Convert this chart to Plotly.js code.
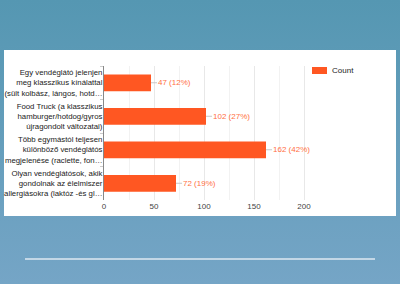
<!DOCTYPE html>
<html><head><meta charset="utf-8">
<script src="https://cdn.plot.ly/plotly-3.0.1.min.js"></script>
<style>
html,body{margin:0;padding:0;}
body{width:400px;height:284px;overflow:hidden;position:relative;background:linear-gradient(#5597b2,#75a5c6);}
#panel{position:absolute;left:4px;top:50px;width:392px;height:166px;background:#fff;}
#rule{position:absolute;left:25px;top:258px;width:350px;height:2px;background:#c3d7e6;}
#chart{position:absolute;left:0;top:0;width:400px;height:284px;}
</style></head>
<body>
<div id="panel"></div><div id="rule"></div><div id="chart"></div>
<script>
const categories = [
  "Egy vendéglátó jelenjen<br>meg klasszikus kínálattal<br>(sült kolbász, lángos, hotd…",
  "Food Truck (a klasszikus<br>hamburger/hotdog/gyros<br>újragondolt változatai)",
  "Több egymástól teljesen<br>különböző vendéglátós<br>megjelenése (raclette, fon…",
  "Olyan vendéglátósok, akik<br>gondolnak az élelmiszer<br>allergiásokra (laktóz -és gl…"
];
const counts = [47, 102, 162, 72];
const percents = [12, 27, 42, 19];
const xTicks = [0, 50, 100, 150, 200];
const xMinorTicks = [25, 75, 125, 175];
const seriesName = "Count";
const barColor = "#ff5722";
const FONT = 'Liberation Sans, Arial, sans-serif';

const annotations = categories.map((c, i) => ({
  x: counts[i], y: c, xref: 'x', yref: 'y',
  text: counts[i] + ' (' + percents[i] + '%)',
  showarrow: true, arrowhead: 0, arrowwidth: 1, arrowcolor: '#c8c8c8',
  ax: 6, ay: 0, xanchor: 'left', borderpad: 0,
  font: {family: FONT, size: 8, color: '#ff7043'}
}));
annotations.push({
  xref: 'paper', yref: 'paper', x: (330 - 104) / 212, y: (200 - 70.5) / 134,
  text: seriesName, showarrow: false, xanchor: 'left', yanchor: 'middle',
  font: {family: FONT, size: 8, color: '#222'}
});

Plotly.newPlot('chart', [{
  type: 'bar', orientation: 'h', y: categories, x: counts, name: seriesName,
  marker: {color: barColor}, width: 0.5, hoverinfo: 'none'
}], {
  width: 400, height: 284,
  margin: {l: 104, r: 84, t: 66, b: 84, pad: 0},
  paper_bgcolor: 'rgba(0,0,0,0)', plot_bgcolor: 'rgba(0,0,0,0)',
  showlegend: false,
  font: {family: FONT, size: 8, color: '#222'},
  xaxis: {
    range: [0, 212], tickvals: xTicks, ticks: '',
    showgrid: true, gridcolor: '#e8e8e8', gridwidth: 1,
    minor: {tickvals: xMinorTicks, showgrid: true, gridcolor: '#f2f2f2'},
    zeroline: false, showline: false,
    tickfont: {size: 8, color: '#444'}
  },
  yaxis: {
    autorange: 'reversed', type: 'category', showgrid: false, zeroline: false,
    showline: true, linecolor: '#888', linewidth: 1, automargin: false,
    ticks: 'outside', tickson: 'boundaries', ticklen: 3, tickcolor: '#ccc',
    ticklabelstandoff: -1,
    tickfont: {size: 7.8, color: '#222'}
  },
  shapes: [{
    type: 'rect', xref: 'paper', yref: 'paper',
    x0: (312 - 104) / 212, x1: (327 - 104) / 212,
    y0: (200 - 74) / 134, y1: (200 - 67) / 134,
    fillcolor: barColor, line: {width: 0}
  }],
  annotations: annotations
}, {staticPlot: true});
</script>
</body></html>
